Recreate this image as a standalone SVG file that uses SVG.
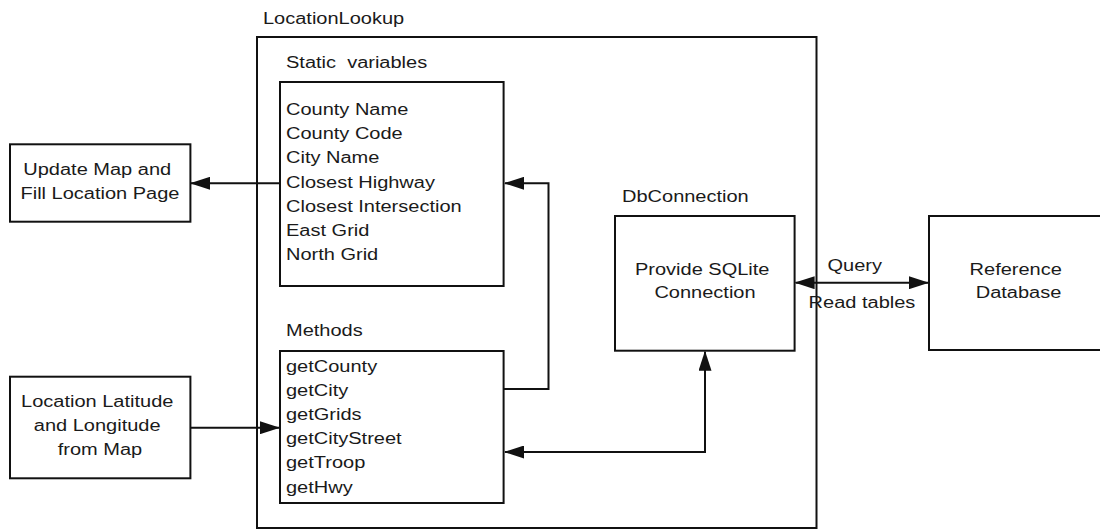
<svg xmlns="http://www.w3.org/2000/svg" width="1100" height="529" viewBox="0 0 1100 529">
  <style>
    .box { fill: #ffffff; stroke: #111111; stroke-width: 2; }
    .frame { fill: none; stroke: #111111; stroke-width: 2; }
    .wire { fill: none; stroke: #111111; stroke-width: 2; }
    .t { font-family: "Liberation Sans", Arial, sans-serif; font-size: 16px; fill: #1a1a1a; }
    .c { text-anchor: middle; }
  </style>
  <defs>
    <marker id="arrow" viewBox="0 0 20 13" refX="19" refY="6.5" markerWidth="20" markerHeight="13" markerUnits="userSpaceOnUse" orient="auto-start-reverse">
      <path d="M0,0 L20,6.5 L0,13 z" fill="#111111"/>
    </marker>
  </defs>

  <rect width="1100" height="529" fill="#ffffff"/>

  <!-- LocationLookup class container -->
  <g id="location-lookup">
    <rect class="frame" x="257" y="37" width="559.5" height="491"/>
    <text class="t" transform="translate(263 24) scale(1.25 1)">LocationLookup</text>
  </g>

  <!-- Static variables -->
  <g id="static-variables">
    <text class="t" xml:space="preserve" transform="translate(286 68) scale(1.25 1)">Static  variables</text>
    <rect class="box" x="280" y="82" width="223.6" height="204"/>
    <text class="t" transform="translate(286 115) scale(1.25 1)">
      <tspan x="0" y="0">County Name</tspan>
      <tspan x="0" y="24.2">County Code</tspan>
      <tspan x="0" y="48.4">City Name</tspan>
      <tspan x="0" y="72.6">Closest Highway</tspan>
      <tspan x="0" y="96.8">Closest Intersection</tspan>
      <tspan x="0" y="121">East Grid</tspan>
      <tspan x="0" y="145.2">North Grid</tspan>
    </text>
  </g>

  <!-- Methods -->
  <g id="methods">
    <text class="t" transform="translate(286 336) scale(1.25 1)">Methods</text>
    <rect class="box" x="280" y="351" width="223.6" height="152"/>
    <text class="t" transform="translate(286 371.7) scale(1.25 1)">
      <tspan x="0" y="0">getCounty</tspan>
      <tspan x="0" y="24.2">getCity</tspan>
      <tspan x="0" y="48.4">getGrids</tspan>
      <tspan x="0" y="72.6">getCityStreet</tspan>
      <tspan x="0" y="96.8">getTroop</tspan>
      <tspan x="0" y="121">getHwy</tspan>
    </text>
  </g>

  <!-- Output page -->
  <g id="update-map">
    <rect class="box" x="10" y="144.3" width="180.4" height="77.4"/>
    <text class="t c" transform="translate(100 175) scale(1.25 1)">
      <tspan x="0" y="0">Update Map and</tspan>
      <tspan x="0" y="24">Fill Location Page</tspan>
    </text>
  </g>

  <!-- Input coordinates -->
  <g id="location-input">
    <rect class="box" x="10" y="376.7" width="180.4" height="101.6"/>
    <text class="t c" transform="translate(100 406.7) scale(1.25 1)">
      <tspan x="0" y="0">Location Latitude</tspan>
      <tspan x="0" y="24.2">and Longitude</tspan>
      <tspan x="0" y="48.4">from Map</tspan>
    </text>
  </g>

  <!-- DbConnection -->
  <g id="db-connection">
    <text class="t" transform="translate(622 201.7) scale(1.25 1)">DbConnection</text>
    <rect class="box" x="615" y="216" width="179.6" height="134.7"/>
    <text class="t c" transform="translate(705 275) scale(1.25 1)">
      <tspan x="0" y="0">Provide SQLite</tspan>
      <tspan x="0" y="23.3">Connection</tspan>
    </text>
  </g>

  <!-- Reference database -->
  <g id="reference-db">
    <rect class="box" x="929" y="216" width="200" height="134"/>
    <text class="t c" transform="translate(1018.5 275) scale(1.25 1)">
      <tspan x="0" y="0">Reference</tspan>
      <tspan x="0" y="23.3">Database</tspan>
    </text>
  </g>

  <!-- Connectors -->
  <g id="connectors">
    <path class="wire" d="M280,183.3 H191" marker-end="url(#arrow)"/>
    <path class="wire" d="M503.6,389 H548.5 V183.3 H505" marker-end="url(#arrow)"/>
    <path class="wire" d="M190.4,427.7 H279" marker-end="url(#arrow)"/>
    <path class="wire" d="M505,452 H705 V351.7" marker-start="url(#arrow)" marker-end="url(#arrow)"/>
    <path class="wire" d="M795.6,282.7 H928" marker-start="url(#arrow)" marker-end="url(#arrow)"/>
    <text class="t" transform="translate(827.5 270.7) scale(1.25 1)">Query</text>
    <text class="t" transform="translate(808.6 308.3) scale(1.25 1)">Read tables</text>
  </g>
</svg>
